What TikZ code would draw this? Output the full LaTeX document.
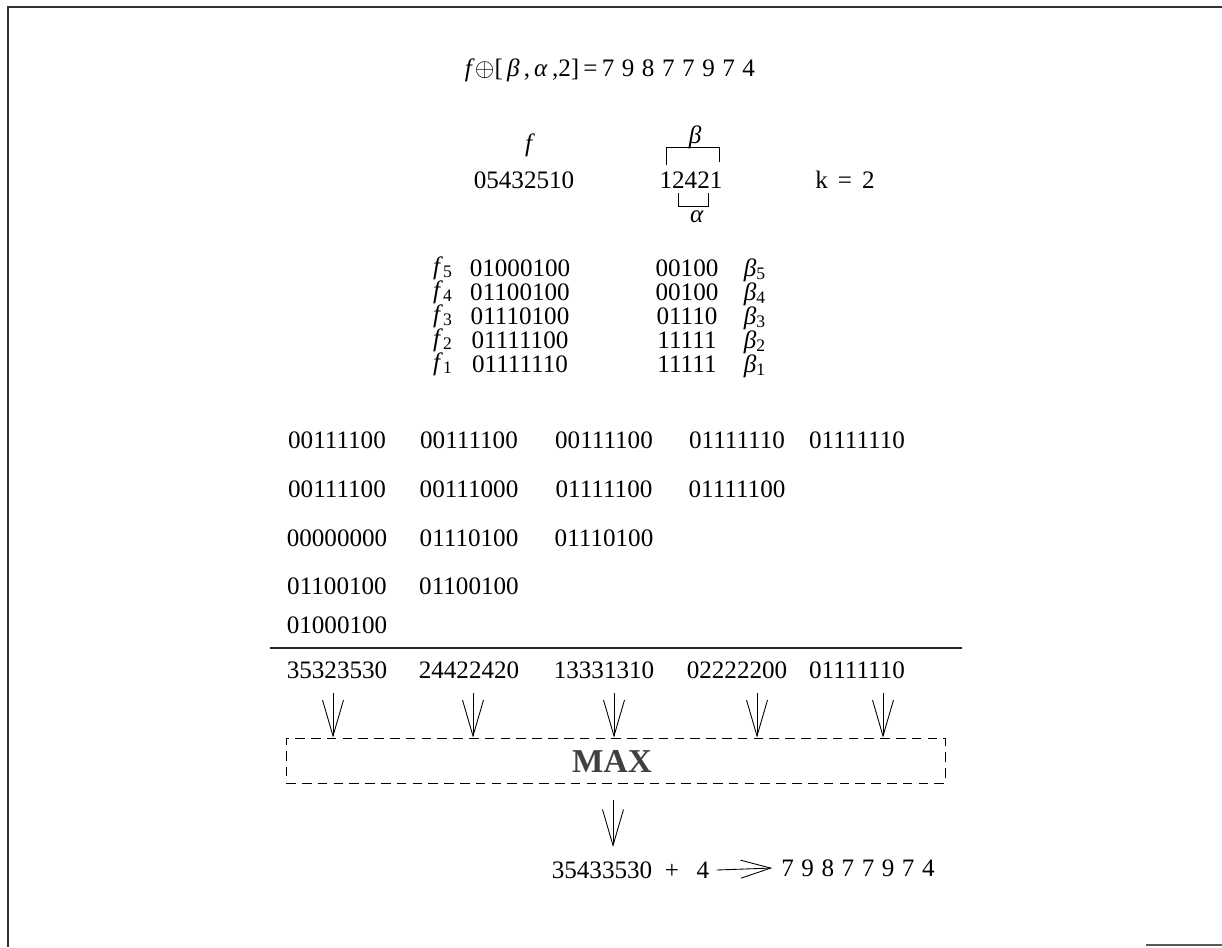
\documentclass[tikz,border=0pt]{standalone}
\usepackage{fontspec}
\setmainfont{Liberation Serif}
\usetikzlibrary{positioning,arrows.meta}
\newcommand{\dgap}{\hspace{.3em}}

\begin{document}
\begin{tikzpicture}[
  x=0.02cm, y=-0.02cm,
  font=\fontsize{14.3}{17}\selectfont,
  txt/.style={inner sep=0pt, anchor=center},
  frame/.style={draw=black!80, line width=1.2pt},
  rule/.style={draw=black!85, line width=1.6pt},
  bracket/.style={draw=black, line width=0.5pt},
  maxbox/.style={draw=black, dash pattern=on 5.5pt off 3.5pt, line width=0.5pt,
                 minimum width=13.18cm, minimum height=0.9cm, inner sep=0pt},
  down/.style={draw=black, line width=0.5pt, -{Straight Barb[length=7.2mm, width=4.2mm]}},
  right/.style={draw=black, line width=0.5pt, -{Straight Barb[length=6mm, width=3.6mm]}}
]
\useasboundingbox (0,0) rectangle (1222,947);
\draw[frame] (1222,7) -- (8,7) -- (8,947);
\draw[draw=black!65, line width=0.8pt] (1146,945) -- (1222,945);

% title
\node[txt] (title) at (610,70) {\textit{f}$\oplus$[\,\textit{β}\,,\,\textit{α}\,,2]\,=\,7\dgap 9\dgap 8\dgap 7\dgap 7\dgap 9\dgap 7\dgap 4};

% f, beta, alpha, k
\node[txt] (flab) at (530,145) {\textit{f}};
\node[txt] (fval) at (524,180) {05432510};
\node[txt] (bet)  at (695,137) {\textit{β}};
\node[txt] (bnum) at (691,180) {12421};
\node[txt] (alp)  at (697,217) {\textit{α}};
\node[txt] (k)    at (845,180) {k\hspace{.4em}=\hspace{.4em}2};
\draw[bracket] (666,165) |- (719,147) -- (719,162);
\draw[bracket] (678,193) |- (708,206) -- (708,193);

% slices
\node[txt] (f5) at (443,268) {\textit{f}\textsubscript{5}};
\node[txt] (f4) at (443,292) {\textit{f}\textsubscript{4}};
\node[txt] (f3) at (443,316) {\textit{f}\textsubscript{3}};
\node[txt] (f2) at (443,340) {\textit{f}\textsubscript{2}};
\node[txt] (f1) at (443,364) {\textit{f}\textsubscript{1}};
\node[txt] (v5) at (520,268) {01000100};
\node[txt] (v4) at (520,292) {01100100};
\node[txt] (v3) at (520,316) {01110100};
\node[txt] (v2) at (520,340) {01111100};
\node[txt] (v1) at (520,364) {01111110};
\node[txt] (w5) at (687,268) {00100};
\node[txt] (w4) at (687,292) {00100};
\node[txt] (w3) at (687,316) {01110};
\node[txt] (w2) at (687,340) {11111};
\node[txt] (w1) at (687,364) {11111};
\node[txt] (b5) at (755,270) {\textit{β}\textsubscript{5}};
\node[txt] (b4) at (755,294) {\textit{β}\textsubscript{4}};
\node[txt] (b3) at (755,318) {\textit{β}\textsubscript{3}};
\node[txt] (b2) at (755,342) {\textit{β}\textsubscript{2}};
\node[txt] (b1) at (755,366) {\textit{β}\textsubscript{1}};

% grid
\node[txt] (g11) at (337,440) {00111100};
\node[txt] (g12) at (469,440) {00111100};
\node[txt] (g13) at (604,440) {00111100};
\node[txt] (g14) at (737,440) {01111110};
\node[txt] (g15) at (857,440) {01111110};
\node[txt] (g21) at (337,489) {00111100};
\node[txt] (g22) at (469,489) {00111000};
\node[txt] (g23) at (604,489) {01111100};
\node[txt] (g24) at (737,489) {01111100};
\node[txt] (g31) at (337,538) {00000000};
\node[txt] (g32) at (469,538) {01110100};
\node[txt] (g33) at (604,538) {01110100};
\node[txt] (g41) at (337,586) {01100100};
\node[txt] (g42) at (469,586) {01100100};
\node[txt] (g51) at (337,625) {01000100};
\draw[rule] (270,648) -- (962,648);

% sums
\node[txt] (s1) at (337,670) {35323530};
\node[txt] (s2) at (469,670) {24422420};
\node[txt] (s3) at (604,670) {13331310};
\node[txt] (s4) at (737,670) {02222200};
\node[txt] (s5) at (857,670) {01111110};

\node[maxbox] (box) at (615.5,760.5) {};
\node[txt, font=\fontsize{19}{22}\selectfont\bfseries, text=black!75] (max) at (612,761) {MAX};

\coordinate (a1) at (333,693);
\coordinate (a2) at (473,693);
\coordinate (a3) at (614,693);
\coordinate (a4) at (757,693);
\coordinate (a5) at (883,693);
\draw[down] (a1) -- (a1 |- box.north);
\draw[down] (a2) -- (a2 |- box.north);
\draw[down] (a3) -- (a3 |- box.north);
\draw[down] (a4) -- (a4 |- box.north);
\draw[down] (a5) -- (a5 |- box.north);

% result
\coordinate (a6) at (613,800);
\coordinate (t6) at (613,847);
\draw[down] (a6) -- (t6);
\node[txt] (res)  at (602,870) {35433530};
\node[txt] (plus) at (687,870) {+\hspace{.7em}4};
\node[txt] (seq)  at (858,868) {7\dgap 9\dgap 8\dgap 7\dgap 7\dgap 9\dgap 7\dgap 4};
\draw[right] ([xshift=4pt]plus.east) -- ([xshift=-5pt]seq.west);
\end{tikzpicture}
\end{document}
